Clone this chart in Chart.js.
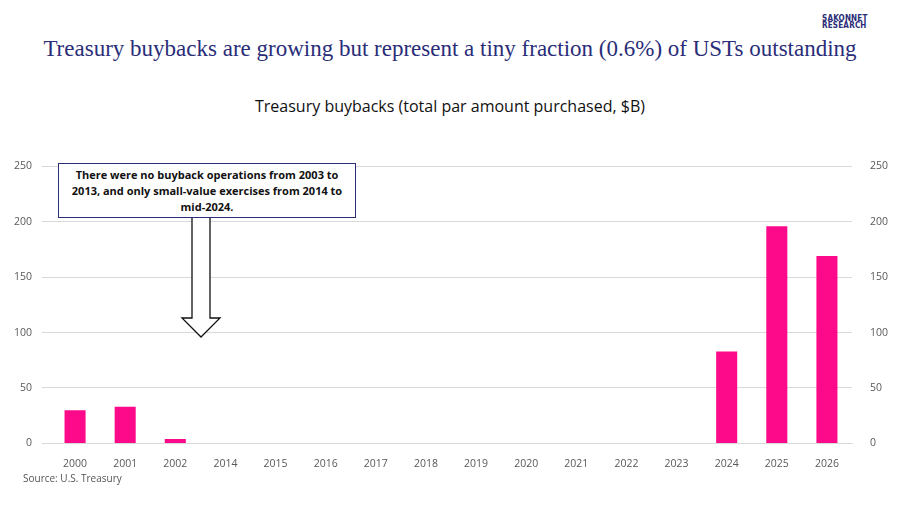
<!DOCTYPE html>
<html>
<head>
<meta charset="utf-8">
<script src="https://cdn.jsdelivr.net/npm/chart.js@4"></script>
<style>
  body { margin: 0; width: 900px; height: 506px; background: #fff; position: relative; font-family: "Open Sans", sans-serif; overflow: hidden; }
  .title { position: absolute; left: 0; width: 900px; top: 36px; text-align: center; font-family: "Liberation Serif", serif; font-size: 23px; color: #2a2d78; }
  .logo { position: absolute; left: 822px; top: 15px; font-family: "DejaVu Sans Condensed", sans-serif; font-weight: bold; font-size: 8px; line-height: 7px; color: #2a2d78; letter-spacing: 0.2px; }
  .subtitle { position: absolute; left: 0; width: 900px; top: 95px; text-align: center; font-size: 16px; color: #111; }
  .source { position: absolute; left: 23px; top: 471px; font-size: 10px; color: #555; }
  .wrap { position: absolute; left: 0; top: 150px; width: 900px; height: 326px; }
  .note { position: absolute; left: 58px; top: 163px; width: 298px; height: 55px; border: 1px solid #2a2d78; background: #fff; box-sizing: border-box;
          font-weight: bold; font-size: 11px; line-height: 16px; text-align: center; padding: 3px 10px 0; color: #111; }
  svg { position: absolute; left: 0; top: 0; }
</style>
</head>
<body>
<div class="title">Treasury buybacks are growing but represent a tiny fraction (0.6%) of USTs outstanding</div>
<div class="logo">SAKONNET<br>RESEARCH</div>
<div class="subtitle">Treasury buybacks (total par amount purchased, $B)</div>
<div class="wrap"><canvas id="c"></canvas></div>
<svg width="900" height="506">
  <polygon points="192,217 210,217 210,318 220,318 201,337 182,318 192,318" fill="#fff" stroke="#111" stroke-width="1.3"/>
</svg>
<div class="note">There were no buyback operations from 2003 to 2013, and only small-value exercises from 2014 to mid-2024.</div>
<div class="source">Source: U.S. Treasury</div>
<script>
// data
const years = ['2000','2001','2002','2014','2015','2016','2017','2018','2019','2020','2021','2022','2023','2024','2025','2026'];
const buybacks = [30, 33, 4, 0, 0, 0, 0, 0, 0, 0, 0, 0, 0, 83, 196, 169];
const yTicks = [0, 50, 100, 150, 200, 250];

const tickFont = { family: 'Open Sans', size: 10.5 };

new Chart(document.getElementById('c'), {
  type: 'bar',
  data: {
    labels: years,
    datasets: [{ data: buybacks, backgroundColor: '#fc0a8a', categoryPercentage: 1, barPercentage: 0.42 }]
  },
  options: {
    responsive: true,
    maintainAspectRatio: false,
    animation: false,
    layout: { padding: { top: 13, bottom: 0 } },
    plugins: { legend: { display: false }, tooltip: { enabled: false } },
    scales: {
      x: {
        grid: { display: false },
        border: { color: '#d9d9d9' },
        ticks: { color: '#595959', font: tickFont, maxRotation: 0, padding: 6 }
      },
      y: {
        min: 0, max: 250,
        afterBuildTicks: ax => { ax.ticks = yTicks.map(v => ({ value: v })); },
        afterFit: ax => { ax.width = 50; },
        grid: { color: '#d9d9d9' },
        border: { display: false },
        ticks: { color: '#595959', font: tickFont, padding: 10 }
      },
      y2: {
        position: 'right', min: 0, max: 250,
        afterBuildTicks: ax => { ax.ticks = yTicks.map(v => ({ value: v })); },
        afterFit: ax => { ax.width = 48; },
        grid: { display: false },
        border: { display: false },
        ticks: { color: '#595959', font: tickFont, padding: 10 }
      }
    }
  }
});
</script>
</body>
</html>
